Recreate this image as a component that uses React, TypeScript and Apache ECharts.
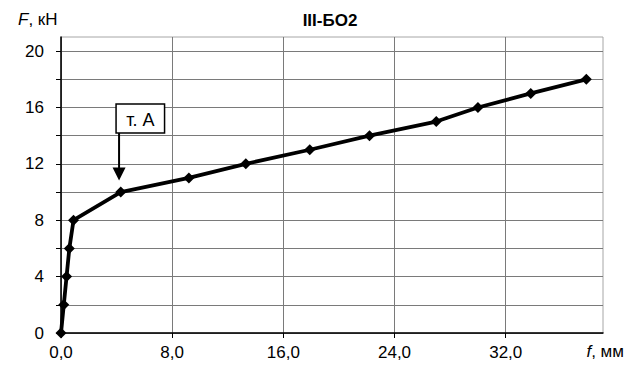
import React, { useEffect, useRef } from "react";
import * as echarts from "echarts";

const deflection = [0, 0.2, 0.4, 0.6, 0.9, 4.3, 9.2, 13.3, 17.9, 22.2, 27.0, 30.0, 33.8, 37.8];
const force = [0, 2, 4, 6, 8, 10, 11, 12, 13, 14, 15, 16, 17, 18];
const xTickLabels = [0, 8, 16, 24, 32];
const yTickLabels = [0, 4, 8, 12, 16, 20];
const yTicks = [0, 2, 4, 6, 8, 10, 12, 14, 16, 18, 20];
const pointAIndex = 5;
const chartTitle = "III-БО2";
const FONT = "'Liberation Sans', Arial, sans-serif";

export default function App() {
  const ref = useRef<HTMLDivElement>(null);
  useEffect(() => {
    if (!ref.current) return;
    const chart = echarts.init(ref.current, undefined, { renderer: "svg" });
    const data = deflection.map((x, i) => [x, force[i]]);
    chart.setOption({
      animation: false,
      backgroundColor: "#ffffff",
      grid: {
        left: 61,
        right: 29,
        top: 37,
        bottom: 43,
        show: true,
        borderColor: "#a6a6a6",
        borderWidth: 1,
        backgroundColor: "transparent",
      },
      xAxis: {
        type: "value",
        min: 0,
        max: 39,
        interval: 4,
        axisLine: { show: true, onZero: false, lineStyle: { color: "#000", width: 1.5 } },
        axisTick: { show: true, customValues: xTickLabels, length: 5, lineStyle: { color: "#000", width: 1 } },
        axisLabel: {
          customValues: xTickLabels,
          margin: 11,
          fontSize: 17,
          fontFamily: FONT,
          color: "#000",
          formatter: (v: number) => v.toFixed(1).replace(".", ","),
        },
        splitLine: { show: true, lineStyle: { color: "#7a7a7a", width: 1 } },
      },
      yAxis: {
        type: "value",
        min: 0,
        max: 21,
        interval: 2,
        axisLine: { show: true, onZero: false, lineStyle: { color: "#000", width: 1.5 } },
        axisTick: { show: true, customValues: yTicks, length: 5, lineStyle: { color: "#000", width: 1 } },
        axisLabel: {
          customValues: yTickLabels,
          margin: 17,
          fontSize: 17,
          fontFamily: FONT,
          color: "#000",
        },
        splitLine: { show: true, lineStyle: { color: "#7a7a7a", width: 1 } },
      },
      series: [
        {
          type: "line",
          data,
          symbol: "diamond",
          symbolSize: [11, 11],
          lineStyle: { color: "#000", width: 3.8 },
          itemStyle: { color: "#000" },
          z: 5,
        },
      ],
    });
    const [px, py] = chart.convertToPixel({ gridIndex: 0 }, data[pointAIndex]) as number[];
    const arrowX = px - 1.7;
    const tipY = py - 11.5;
    const boxTop = py - 88;
    const boxH = 29;
    chart.setOption({
      graphic: [
        {
          type: "text",
          left: 18,
          top: 11,
          style: {
            text: "{i|F}{n|, кН}",
            rich: {
              i: { fontSize: 17, fontStyle: "italic", fontFamily: FONT, fill: "#000" },
              n: { fontSize: 17, fontFamily: FONT, fill: "#000" },
            },
          },
        },
        {
          type: "text",
          x: 330,
          y: 20,
          style: {
            text: chartTitle,
            fontSize: 17,
            fontWeight: "bold",
            fontFamily: FONT,
            fill: "#000",
            align: "center",
            verticalAlign: "middle",
          },
        },
        {
          type: "text",
          right: 8,
          top: 343,
          style: {
            text: "{i|f}{n|, мм}",
            rich: {
              i: { fontSize: 17, fontStyle: "italic", fontFamily: FONT, fill: "#000" },
              n: { fontSize: 17, fontFamily: FONT, fill: "#000" },
            },
          },
        },
        {
          type: "rect",
          shape: { x: px - 4.7, y: boxTop, width: 48.5, height: boxH },
          style: { fill: "#fff", stroke: "#000", lineWidth: 1.5 },
          z: 10,
        },
        {
          type: "text",
          x: px - 4.7 + 24.25,
          y: boxTop + boxH / 2 + 1,
          style: {
            text: "т. А",
            fontSize: 18,
            fontFamily: FONT,
            fill: "#000",
            align: "center",
            verticalAlign: "middle",
          },
          z: 11,
        },
        {
          type: "line",
          shape: { x1: arrowX, y1: boxTop + boxH, x2: arrowX, y2: tipY - 10 },
          style: { stroke: "#000", lineWidth: 2 },
          z: 10,
        },
        {
          type: "polygon",
          shape: { points: [[arrowX - 6.5, tipY - 13], [arrowX + 6.5, tipY - 13], [arrowX, tipY]] },
          style: { fill: "#000" },
          z: 10,
        },
      ],
    });
    return () => chart.dispose();
  }, []);
  return <div ref={ref} style={{ width: 632, height: 376, position: "absolute", left: 0, top: 0 }} />;
}
